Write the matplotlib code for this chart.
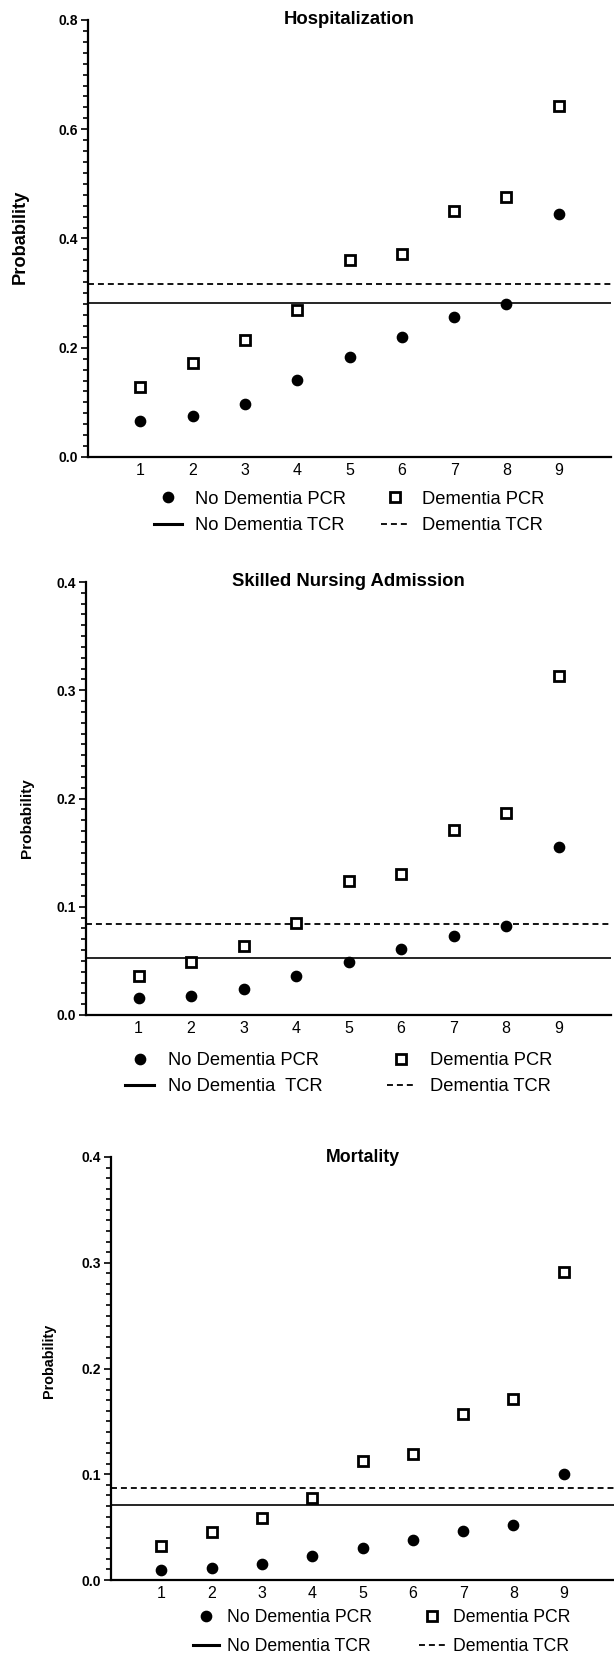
import matplotlib
matplotlib.use("Agg")
import matplotlib.pyplot as plt
from matplotlib.ticker import MultipleLocator, FormatStrFormatter
from matplotlib.lines import Line2D

plt.rcParams['font.family'] = ['Liberation Sans', 'DejaVu Sans']

# x categories
groups = [1, 2, 3, 4, 5, 6, 7, 8, 9]

# Hospitalization
hosp_nodem_pcr = [0.065, 0.075, 0.097, 0.141, 0.183, 0.220, 0.257, 0.281, 0.445]
hosp_dem_pcr = [0.129, 0.172, 0.215, 0.270, 0.360, 0.372, 0.450, 0.476, 0.643]
hosp_nodem_tcr = 0.282
hosp_dem_tcr = 0.317

# Skilled nursing admission
snf_nodem_pcr = [0.016, 0.018, 0.024, 0.036, 0.049, 0.061, 0.073, 0.082, 0.155]
snf_dem_pcr = [0.036, 0.049, 0.064, 0.085, 0.124, 0.130, 0.171, 0.187, 0.313]
snf_nodem_tcr = 0.053
snf_dem_tcr = 0.084

# Mortality
mort_nodem_pcr = [0.0094, 0.011, 0.0148, 0.0225, 0.0305, 0.038, 0.046, 0.052, 0.1006]
mort_dem_pcr = [0.0325, 0.045, 0.0587, 0.0778, 0.113, 0.119, 0.157, 0.171, 0.291]
mort_nodem_tcr = 0.071
mort_dem_tcr = 0.0868

W, H = 614, 1655
fig = plt.figure(figsize=(W / 100, H / 100), dpi=100)


def px_axes(left, right, top, bottom):
    return fig.add_axes([left / W, 1 - bottom / H, (right - left) / W, (bottom - top) / H])


DASH = (0, (3.3, 2.2))

panels = [
    dict(box=(88, 611, 20, 457), title="Hospitalization", tsize=13.3,
         nodem=hosp_nodem_pcr, dem=hosp_dem_pcr, tn=hosp_nodem_tcr, td=hosp_dem_tcr,
         ymax=0.8, major=0.2, minor=0.02,
         ylab=(20, 237, 13.2),
         labels=["No Dementia PCR", "No Dementia TCR", "Dementia PCR", "Dementia TCR"],
         leg=dict(anchor=(0.5, -0.127), fs=13.2, hl=1.5, htp=0.75, cs=1.9, ls=0.5)),
    dict(box=(86, 611, 582, 1015), title="Skilled Nursing Admission", tsize=13.3,
         nodem=snf_nodem_pcr, dem=snf_dem_pcr, tn=snf_nodem_tcr, td=snf_dem_tcr,
         ymax=0.4, major=0.1, minor=0.01,
         ylab=(27, 818, 11.1),
         labels=["No Dementia PCR", "No Dementia  TCR", "Dementia PCR", "Dementia TCR"],
         leg=dict(anchor=(0.481, -0.136), fs=13.2, hl=1.6, htp=0.75, cs=3.5, ls=0.5)),
    dict(box=(111, 614, 1157, 1580), title="Mortality", tsize=12.8,
         nodem=mort_nodem_pcr, dem=mort_dem_pcr, tn=mort_nodem_tcr, td=mort_dem_tcr,
         ymax=0.4, major=0.1, minor=0.01,
         ylab=(49, 1361, 10.4),
         labels=["No Dementia PCR", "No Dementia TCR", "Dementia PCR", "Dementia TCR"],
         leg=dict(anchor=(0.538, -0.123), fs=12.7, hl=1.45, htp=0.45, cs=2.7, ls=0.7)),
]

for p in panels:
    ax = px_axes(*p["box"])
    ax.plot(groups, p["nodem"], linestyle='none', marker='o', ms=7.4,
            color='black', clip_on=False, zorder=3)
    ax.plot(groups, p["dem"], linestyle='none', marker='s', ms=7.2, mew=2.0,
            mfc='white', mec='black', clip_on=False, zorder=3)
    ax.axhline(p["tn"], color='black', lw=1.2, zorder=2)
    ax.axhline(p["td"], color='black', lw=1.3, linestyle=DASH, zorder=2)

    ax.set_xlim(0, 10)
    ax.set_ylim(0, p["ymax"])
    ax.set_xticks(groups)
    ax.yaxis.set_major_locator(MultipleLocator(p["major"]))
    ax.yaxis.set_minor_locator(MultipleLocator(p["minor"]))
    ax.yaxis.set_major_formatter(FormatStrFormatter('%.1f'))
    ax.spines['top'].set_visible(False)
    ax.spines['right'].set_visible(False)
    ax.spines['left'].set_linewidth(1.6)
    ax.spines['bottom'].set_linewidth(1.6)
    ax.tick_params(axis='x', length=0, pad=4, labelsize=11.5)
    ax.tick_params(axis='y', which='major', length=5.2, width=1.2, pad=2, labelsize=10)
    ax.tick_params(axis='y', which='minor', length=3.4, width=1.2)
    for lab in ax.get_yticklabels():
        lab.set_fontweight('bold')

    ax.text(0.5, 1.0, p["title"], transform=ax.transAxes, ha='center', va='center',
            fontsize=p["tsize"], fontweight='bold')

    lx, ly, lsz = p["ylab"]
    fig.text(lx / W, 1 - ly / H, "Probability", rotation=90, ha='center', va='center',
             fontsize=lsz, fontweight='bold')

    handles = [
        Line2D([], [], linestyle='none', marker='o', ms=7.4, color='black'),
        Line2D([], [], color='black', lw=2.2),
        Line2D([], [], linestyle='none', marker='s', ms=7.2, mew=2.0, mfc='white', mec='black'),
        Line2D([], [], color='black', lw=1.3, linestyle=DASH),
    ]
    lg = p["leg"]
    ax.legend(handles, p["labels"], ncol=2, loc='center', bbox_to_anchor=lg["anchor"],
              frameon=False, fontsize=lg["fs"], handlelength=lg["hl"],
              handletextpad=lg["htp"], columnspacing=lg["cs"], labelspacing=lg["ls"],
              borderpad=0, borderaxespad=0)

fig.savefig("out.png", dpi=100)
